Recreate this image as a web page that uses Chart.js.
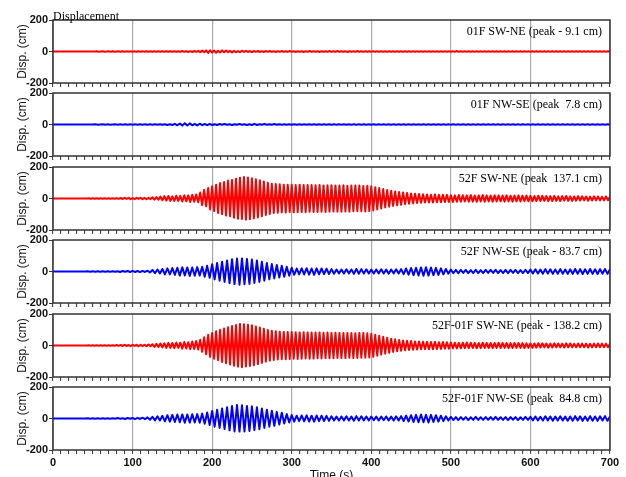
<!DOCTYPE html>
<html>
<head>
<meta charset="utf-8">
<script src="https://cdn.jsdelivr.net/npm/chart.js@4.4.1/dist/chart.umd.min.js"></script>
<style>
  body { margin: 0; width: 626px; height: 477px; overflow: hidden; background: #fff; }
  canvas { position: absolute; left: 0; }
</style>
</head>
<body>
<script>
// axis ticks
const timeLabels = [0, 100, 200, 300, 400, 500, 600, 700];
const dispLabels = [-200, 0, 200];

// sample step (s) of each record: SW-NE and NW-SE components
const dtSW = 2.5;
const dtNW = 3.125;

// displacement (cm)
const sw01F = [
  0,0,0,0,0,0,0,0,0,0,0,0,0,0,0,0,0,0,0,0,
  0,0,1,-1,0,1,-1,0,1,-1,1,-1,0,1,-1,1,-1,1,-1,1,
  -1,1,-1,1,-2,1,-1,2,-1,2,-2,1,-2,2,-1,2,-2,1,-2,2,
  -2,2,-1,2,-2,3,-2,2,-3,2,-3,3,-2,4,-5,6,-5,7,-9,8,
  -7,6,-8,5,-6,7,-5,6,-4,5,-6,4,-5,3,-4,5,-3,4,-3,3,
  -4,3,-2,3,-3,2,-3,3,-2,3,-2,2,-3,2,-2,3,-2,2,-2,3,
  -2,2,-3,2,-2,2,-3,2,-2,3,-2,2,-2,2,-3,2,-2,2,-2,3,
  -2,2,-2,3,-2,2,-2,2,-3,2,-2,2,-2,3,-2,2,-2,2,-2,2,
  -2,2,-1,2,-2,1,-2,2,-1,2,-2,1,-2,2,-1,2,-1,2,-2,1,
  -2,1,-1,2,-1,1,-2,1,-1,2,-1,1,-1,2,-1,1,-2,1,-1,2,
  -1,1,-2,3,-2,1,-1,2,-1,1,-2,1,-1,2,-1,1,-1,2,-1,1,
  -1,1,-2,1,-1,1,-1,2,-1,1,-1,1,-2,1,-1,1,-1,1,-2,1,
  -1,1,-1,1,-1,2,-1,1,-1,1,-1,1,-1,2,-1,1,-1,1,-1,1,
  -1,1,-1,1,-2,1,-1,1,-1,1,-1,1,-1,1,-1,1,-1,1,-1,1,0
];
const nw01F = [
  0,0,0,0,0,0,0,0,0,0,0,0,0,0,0,0,
  0,1,-1,0,1,-1,1,-1,0,1,-1,1,-1,1,-1,1,
  -1,1,-1,2,-1,1,-2,1,-2,2,-1,2,-2,2,-3,2,
  -3,4,-5,6,-7,8,-6,7,-5,4,-6,5,-4,3,-4,3,
  -3,2,-3,3,-2,3,-2,2,-3,2,-2,3,-2,2,-3,2,
  -3,4,-3,2,-2,3,-2,2,-2,3,-2,2,-2,2,-2,2,
  -2,2,-1,2,-2,1,-2,2,-1,2,-2,1,-2,2,-1,2,
  -2,1,-1,2,-1,1,-2,1,-1,2,-1,1,-1,2,-1,1,
  -1,1,-2,1,-1,1,-1,2,-1,1,-1,1,-2,1,-1,1,
  -1,2,-1,1,-2,2,-1,1,-1,2,-1,1,-1,1,-1,1,
  -1,1,-1,1,-1,1,-1,1,-1,1,-1,1,-1,1,-1,1,
  -1,1,-1,1,-1,1,-1,1,-1,1,-1,1,-1,1,-1,1,
  -1,1,-1,1,-1,1,-2,1,-1,1,-1,1,-1,1,-1,1,
  -1,1,-1,1,-1,1,-1,1,-1,1,-1,1,-1,1,-1,1,
  0
];
const sw52F = [
  0,0,0,0,0,0,0,0,0,0,0,0,0,0,0,0,0,0,1,-1,
  2,-1,2,-2,1,-2,2,-1,2,-2,1,-2,2,-2,3,-3,4,-3,4,-4,
  3,-4,4,-3,5,-4,4,-5,4,-4,8,-7,9,-8,12,-11,15,-14,16,-15,
  14,-16,18,-15,17,-19,21,-18,20,-22,24,-20,26,-24,38,-42,55,-50,66,-70,
  78,-80,88,-92,98,-100,104,-108,114,-112,118,-122,126,-128,132,-130,137,-134,133,-131,
  128,-126,122,-120,116,-112,108,-104,100,-98,94,-92,92,-90,90,-88,88,-89,88,-86,
  87,-88,86,-87,88,-86,85,-87,86,-84,85,-86,84,-85,86,-84,83,-85,84,-83,
  84,-82,83,-84,82,-83,84,-82,81,-83,82,-81,83,-80,82,-81,80,-82,81,-80,
  78,-76,72,-70,66,-63,60,-57,54,-52,49,-47,45,-43,41,-40,38,-36,35,-33,
  32,-31,30,-29,28,-27,27,-26,25,-26,24,-25,25,-24,23,-24,24,-22,23,-22,
  21,-22,20,-21,22,-20,21,-19,20,-21,22,-20,19,-21,20,-19,22,-21,20,-19,
  19,-20,21,-19,20,-18,19,-20,21,-19,18,-20,19,-18,20,-19,18,-17,19,-18,
  17,-18,16,-17,18,-16,17,-15,16,-17,15,-16,17,-15,14,-16,15,-14,16,-15,
  14,-15,13,-14,15,-13,14,-12,13,-14,12,-13,14,-12,13,-12,11,-12,13,-11,12
];
const nw52F = [
  0,0,0,0,0,0,0,0,0,0,0,0,0,0,1,-1,
  1,-1,2,-1,1,-2,2,-1,2,-2,2,-3,3,-2,3,-3,
  4,-3,3,-4,4,-3,5,-6,10,-11,13,-12,16,-18,20,-19,
  22,-21,24,-26,27,-25,26,-28,25,-27,28,-26,30,-33,36,-40,
  46,-50,54,-58,62,-66,70,-74,78,-80,82,-84,83,-81,80,-78,
  76,-73,70,-66,62,-58,54,-50,47,-44,41,-38,36,-33,30,-27,
  24,-21,19,-18,20,-19,21,-20,19,-21,20,-18,19,-17,18,-16,
  15,-14,13,-12,12,-13,14,-12,13,-15,16,-14,15,-13,14,-13,
  12,-13,13,-12,14,-13,12,-14,13,-12,14,-13,15,-17,19,-20,
  22,-23,24,-25,26,-27,27,-26,25,-24,23,-22,20,-18,16,-14,
  12,-11,10,-11,10,-9,10,-11,9,-10,11,-10,9,-10,10,-9,
  10,-9,11,-10,9,-10,10,-11,10,-9,10,-11,9,-10,11,-10,
  12,-13,14,-13,12,-14,15,-13,14,-15,13,-14,15,-14,13,-15,
  14,-15,16,-14,15,-16,14,-15,16,-15,14,-16,15,-14,16,-15,
  14
];
const swDiff = [
  0,0,0,0,0,0,0,0,0,0,0,0,0,0,0,0,0,0,1,-1,
  1,-2,2,-1,2,-2,1,-2,2,-1,2,-2,3,-2,3,-3,4,-3,3,-4,
  4,-3,4,-5,4,-4,5,-4,6,-5,8,-9,11,-10,13,-12,14,-15,17,-15,
  16,-17,19,-16,18,-20,22,-19,21,-23,25,-22,28,-26,36,-40,52,-56,68,-72,
  80,-84,90,-94,100,-104,108,-112,116,-120,124,-128,130,-134,136,-138,135,-133,132,-130,
  128,-125,121,-118,114,-110,106,-102,98,-96,94,-92,90,-89,88,-87,86,-87,85,-86,
  85,-84,84,-85,83,-84,84,-82,83,-84,82,-83,82,-81,83,-82,81,-80,82,-81,
  80,-81,81,-79,80,-80,79,-80,80,-78,79,-80,78,-79,80,-78,79,-77,78,-76,
  74,-72,68,-65,62,-58,55,-52,49,-46,43,-41,39,-37,35,-33,32,-31,30,-29,
  28,-27,26,-25,25,-24,24,-23,23,-24,22,-23,23,-22,21,-22,22,-20,21,-20,
  19,-18,18,-19,17,-18,18,-17,19,-17,18,-16,17,-18,16,-17,18,-16,17,-16,
  16,-17,17,-16,18,-16,17,-15,16,-17,15,-16,17,-15,16,-15,15,-16,14,-15,
  14,-15,13,-14,15,-13,14,-12,13,-14,12,-13,14,-12,13,-12,12,-13,14,-12,
  13,-12,11,-12,13,-11,12,-11,12,-13,11,-12,12,-11,13,-11,12,-11,12,-11,12
];
const nwDiff = [
  0,0,0,0,0,0,0,0,0,0,0,0,0,0,1,-1,
  1,-2,1,-1,2,-2,1,-2,2,-2,3,-2,2,-3,3,-2,
  3,-4,4,-3,5,-4,7,-8,11,-12,14,-13,17,-18,21,-20,
  23,-22,25,-24,26,-27,25,-26,27,-25,28,-27,31,-34,38,-41,
  48,-52,56,-60,64,-67,71,-75,80,-82,85,-83,84,-82,80,-79,
  77,-74,71,-68,64,-60,56,-52,49,-46,42,-39,36,-32,28,-25,
  22,-20,18,-17,19,-18,20,-19,18,-20,19,-17,18,-16,17,-15,
  14,-13,12,-13,13,-12,14,-13,12,-14,15,-13,14,-12,13,-12,
  12,-11,12,-13,12,-11,13,-12,12,-13,14,-13,15,-16,18,-19,
  21,-22,23,-24,25,-24,24,-25,23,-22,21,-20,18,-16,14,-13,
  11,-10,9,-10,9,-8,9,-10,8,-9,10,-9,8,-9,9,-8,
  9,-8,10,-9,8,-9,9,-10,9,-8,9,-10,8,-9,10,-9,
  11,-12,13,-12,11,-13,14,-12,13,-14,12,-13,14,-13,12,-14,
  13,-14,15,-13,14,-15,13,-14,15,-14,13,-15,14,-13,15,-14,
  13
];

const panels = [
  { label: "01F SW-NE (peak - 9.1 cm)", values: sw01F, dt: dtSW, color: "#ff0000" },
  { label: "01F NW-SE (peak  7.8 cm)", values: nw01F, dt: dtNW, color: "#0000ff" },
  { label: "52F SW-NE (peak  137.1 cm)", values: sw52F, dt: dtSW, color: "#ff0000" },
  { label: "52F NW-SE (peak - 83.7 cm)", values: nw52F, dt: dtNW, color: "#0000ff" },
  { label: "52F-01F SW-NE (peak - 138.2 cm)", values: swDiff, dt: dtSW, color: "#ff0000" },
  { label: "52F-01F NW-SE (peak  84.8 cm)", values: nwDiff, dt: dtNW, color: "#0000ff" },
];

const W = 626, plotLeft = 53, plotRight = 610, plotH = 63;
const plotTops = [20, 93, 167, 240, 314, 387];
const sansFamily = "'Liberation Sans', Arial, sans-serif";
const tickFont = { family: sansFamily, size: 11, weight: "bold" };

// box round each panel + the label in its top right corner
const panelFrame = {
  id: "panelFrame",
  afterDraw(chart, args, opts) {
    const { ctx, chartArea: a } = chart;
    ctx.save();
    ctx.strokeStyle = "#333";
    ctx.lineWidth = 1.5;
    ctx.strokeRect(a.left, a.top, a.right - a.left, a.bottom - a.top);
    ctx.fillStyle = "#000";
    ctx.font = "12px 'Liberation Serif', 'Times New Roman', serif";
    ctx.textAlign = "right";
    ctx.textBaseline = "middle";
    ctx.fillText(opts.text, a.right - 8, a.top + 12);
    if (opts.title) {
      ctx.textAlign = "left";
      ctx.textBaseline = "alphabetic";
      ctx.fillText(opts.title, a.left, a.top - 0.5);
    }
    ctx.restore();
  }
};

panels.forEach((p, k) => {
  const last = k === panels.length - 1;
  const cH = last ? 110 : 87;
  const canvas = document.createElement("canvas");
  canvas.width = W;
  canvas.height = cH;
  canvas.style.top = (plotTops[k] - 12) + "px";
  document.body.appendChild(canvas);

  new Chart(canvas, {
    type: "line",
    data: {
      datasets: [{
        data: p.values.map((v, i) => ({ x: i * p.dt, y: v })),
        borderColor: p.color,
        borderWidth: 2,
        borderJoinStyle: "round",
        borderCapStyle: "round",
        pointRadius: 0,
        tension: 0,
      }]
    },
    options: {
      responsive: false,
      animation: false,
      devicePixelRatio: 1,
      layout: { padding: { top: 12, right: W - plotRight, left: 0, bottom: 0 } },
      plugins: {
        legend: { display: false },
        tooltip: { enabled: false },
        panelFrame: { text: p.label, title: k === 0 ? "Displacement" : "" },
      },
      scales: {
        x: {
          type: "linear",
          min: 0,
          max: 700,
          afterFit: (s) => { s.height = cH - 12 - plotH; },
          border: { display: false },
          grid: {
            color: (c) => (c.tick && c.tick.value % 100 === 0 ? "#aaaaaa" : "rgba(0,0,0,0)"),
            lineWidth: 1.2,
            tickColor: "#333",
            tickLength: 4,
            tickWidth: 1,
          },
          ticks: {
            display: last,
            stepSize: 10,
            autoSkip: false,
            maxRotation: 0,
            padding: 2,
            color: "#111",
            font: tickFont,
            callback: (v) => (timeLabels.includes(v) ? String(v) : ""),
          },
          title: {
            display: last,
            text: "Time (s)",
            color: "#111",
            font: { family: sansFamily, size: 12 },
            padding: { top: 0, bottom: 2 },
          },
        },
        y: {
          min: -200,
          max: 200,
          afterFit: (s) => { s.width = plotLeft; },
          border: { display: false },
          grid: { drawOnChartArea: false, tickColor: "#333", tickLength: 4 },
          ticks: {
            stepSize: 100,
            padding: 1,
            color: "#111",
            font: tickFont,
            callback: (v) => (dispLabels.includes(v) ? String(v) : ""),
          },
          title: {
            display: true,
            text: "Disp. (cm)",
            color: "#111",
            font: { family: sansFamily, size: 12 },
            padding: { top: 15, bottom: 0 },
          },
        },
      },
    },
    plugins: [panelFrame],
  });
});
</script>
</body>
</html>
